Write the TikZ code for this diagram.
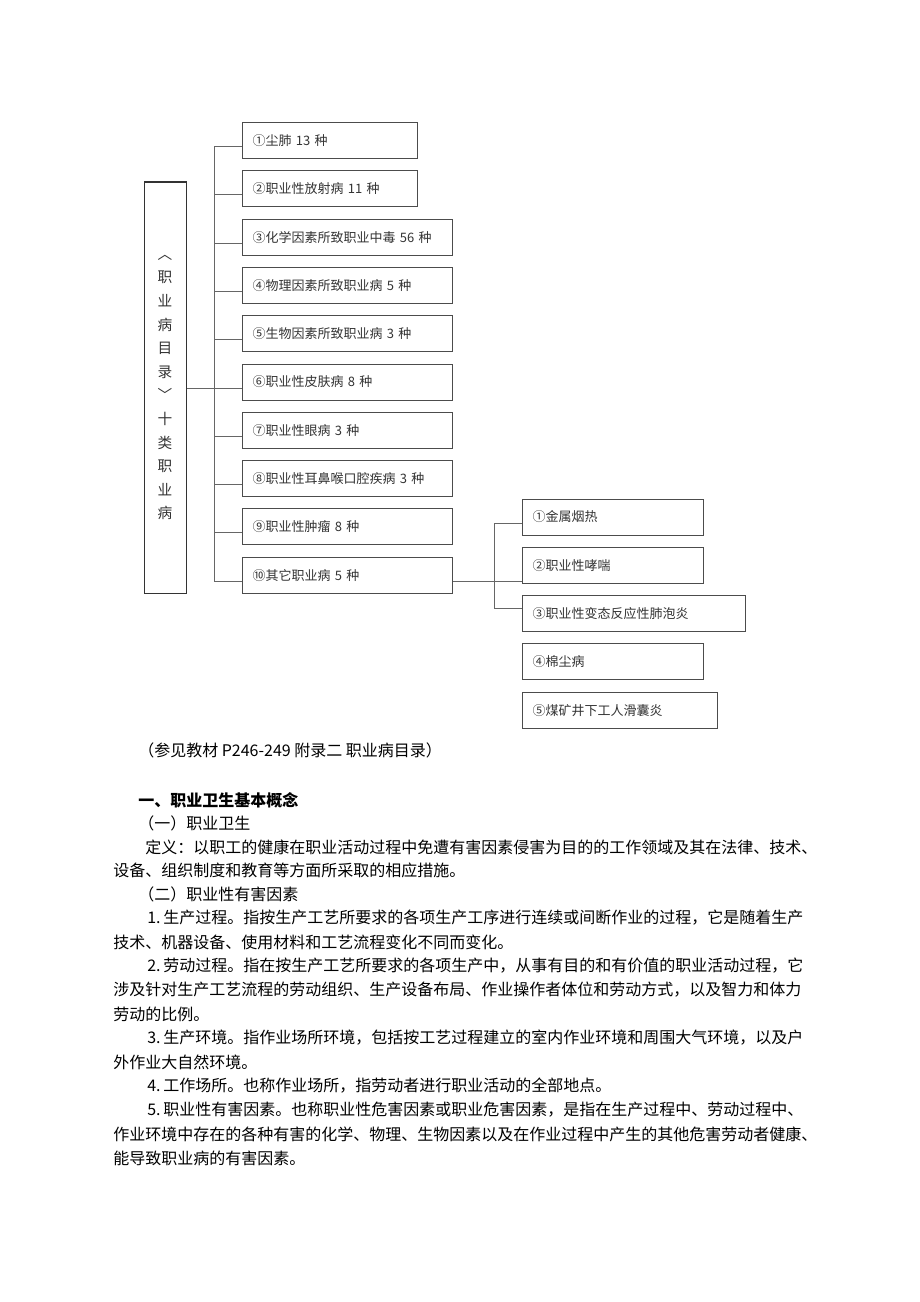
\documentclass[tikz,border=0pt]{standalone}
\usepackage{fontspec}
\setmainfont{Noto Sans CJK SC}
\XeTeXlinebreaklocale "zh"
\XeTeXlinebreakskip=0pt
\hbadness=10000
\newcommand{\fullline}[2]{{\XeTeXlinebreakskip=0pt plus 1fil\hbox to #1{#2}}}

\tikzset{
  listbox/.style={draw=black!70, line width=0.75pt, anchor=west, minimum height=27pt,
    inner xsep=7.5pt, align=left, font=\fontsize{9.75}{11}\selectfont, text=black!80},
  link/.style={draw=black!60, line width=0.75pt},
  bodytext/.style={anchor=west, inner sep=0pt, font=\fontsize{12}{14}\selectfont},
}

\begin{document}
\begin{tikzpicture}[x=0.75pt,y=0.75pt,yscale=-1,xscale=1]
\useasboundingbox (0,0) rectangle (920,1302);

%Shape: Rectangle [id:cat]
\node[draw=black!80, line width=0.75pt, minimum width=31.5pt, minimum height=308.25pt, inner sep=0pt,
  align=center, text=black!80, font=\fontsize{11}{17.7}\selectfont] (cat) at (165,387.5)
  {︿\\职\\业\\病\\目\\录\\﹀\\十\\类\\职\\业\\病};

%Shape: Rectangle [id:ten classes]
\foreach \i/\w/\t in {1/116.25pt/{①尘肺 13 种},
                      2/116.25pt/{②职业性放射病 11 种},
                      3/142.5pt/{③化学因素所致职业中毒 56 种},
                      4/142.5pt/{④物理因素所致职业病 5 种},
                      5/142.5pt/{⑤生物因素所致职业病 3 种},
                      6/142.5pt/{⑥职业性皮肤病 8 种},
                      7/142.5pt/{⑦职业性眼病 3 种},
                      8/142.5pt/{⑧职业性耳鼻喉口腔疾病 3 种},
                      9/142.5pt/{⑨职业性肿瘤 8 种},
                      10/142.5pt/{⑩其它职业病 5 种}}
  \node[listbox, text width=\w] (b\i) at (242,{140.5+48.3*(\i-1)}) {\t};

%Shape: Rectangle [id:others]
\foreach \i/\w/\t in {1/120.75pt/{①金属烟热},
                      2/120.75pt/{②职业性哮喘},
                      3/152.25pt/{③职业性变态反应性肺泡炎},
                      4/120.75pt/{④棉尘病},
                      5/131.25pt/{⑤煤矿井下工人滑囊炎}}
  \node[listbox, text width=\w] (s\i) at (522,{517+48.3*(\i-1)}) {\t};

%Straight Lines [id:bus]
\coordinate (bus) at (214,0);
\foreach \i in {1,...,10} \coordinate (t\i) at ([yshift=4.5pt]b\i.west);
\draw[link] (t1 -| bus) -- (t10 -| bus);
\foreach \i in {1,...,10} \draw[link] (t\i -| bus) -- (t\i);
\draw[link] (cat.east |- t6) -- (t6 -| bus);

%Straight Lines [id:sub bus]
\coordinate (sbus) at (494,0);
\coordinate (u1) at ([yshift=4.5pt]s1.west);
\coordinate (u3) at ([yshift=-3.75pt]s3.west);
\draw[link] (t10 -| b10.east) -- (t10 -| s2.west);
\draw[link] (u1 -| sbus) -- (u3 -| sbus);
\draw[link] (u1 -| sbus) -- (u1);
\draw[link] (u3 -| sbus) -- (u3);

% Text Node
\node[bodytext] (ref) at (138,750) {（参见教材 P246-249 附录二 职业病目录）};
% Text Node
\node[bodytext, font=\fontsize{12}{14}\selectfont\bfseries] (h1) at (138,800) {一、职业卫生基本概念};
% Text Node
\node[bodytext] (h2) at (138,823) {（一）职业卫生};
\node[bodytext] (p1a) at (145,847) {\fullline{506.25pt}{定义：以职工的健康在职业活动过程中免遭有害因素侵害为目的的工作领域及其在法律、技术、}};
\node[bodytext] (p1b) at (113,870) {设备、组织制度和教育等方面所采取的相应措施。};
% Text Node
\node[bodytext] (h3) at (138,894) {（二）职业性有害因素};
\node[bodytext] (p2a) at (147,918) {\fullline{504.75pt}{1.\hspace{2pt}生产过程。指按生产工艺所要求的各项生产工序进行连续或间断作业的过程，它是随着生产}};
\node[bodytext] (p2b) at (113,942) {技术、机器设备、使用材料和工艺流程变化不同而变化。};
\node[bodytext] (p3a) at (147,966) {\fullline{504.75pt}{2.\hspace{2pt}劳动过程。指在按生产工艺所要求的各项生产中，从事有目的和有价值的职业活动过程，它}};
\node[bodytext] (p3b) at (113,990) {\fullline{530.25pt}{涉及针对生产工艺流程的劳动组织、生产设备布局、作业操作者体位和劳动方式，以及智力和体力}};
\node[bodytext] (p3c) at (113,1014) {劳动的比例。};
\node[bodytext] (p4a) at (147,1038) {\fullline{504.75pt}{3.\hspace{2pt}生产环境。指作业场所环境，包括按工艺过程建立的室内作业环境和周围大气环境，以及户}};
\node[bodytext] (p4b) at (113,1062) {外作业大自然环境。};
\node[bodytext] (p5) at (147,1086) {4.\hspace{2pt}工作场所。也称作业场所，指劳动者进行职业活动的全部地点。};
\node[bodytext] (p6a) at (147,1110) {\fullline{504.75pt}{5.\hspace{2pt}职业性有害因素。也称职业性危害因素或职业危害因素，是指在生产过程中、劳动过程中、}};
\node[bodytext] (p6b) at (113,1134) {\fullline{530.25pt}{作业环境中存在的各种有害的化学、物理、生物因素以及在作业过程中产生的其他危害劳动者健康、}};
\node[bodytext] (p6c) at (113,1158) {能导致职业病的有害因素。};

\end{tikzpicture}
\end{document}
